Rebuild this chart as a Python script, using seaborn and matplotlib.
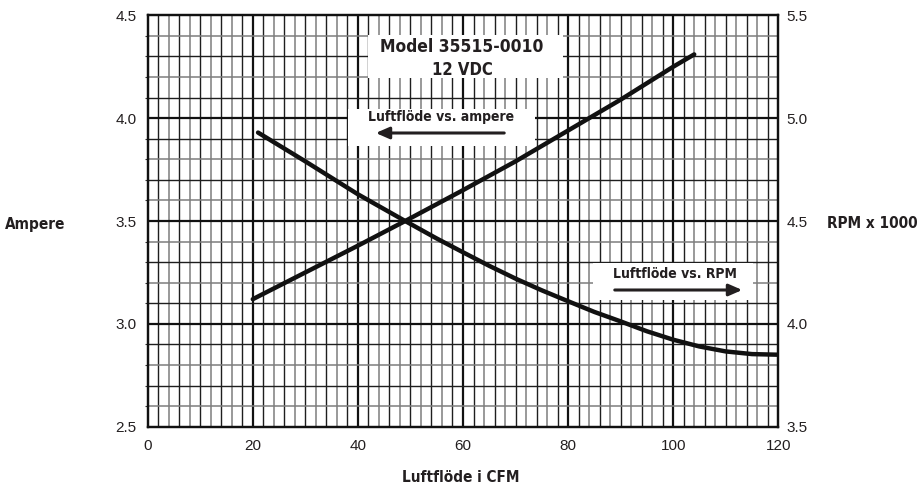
import numpy as np
import pandas as pd
import matplotlib
matplotlib.use("Agg")
import matplotlib.pyplot as plt
import seaborn as sns
from matplotlib import font_manager as fm

# ---- data ----
cfm_amp = [20, 30, 40, 49, 60, 70, 80, 90, 100, 104]
ampere = [3.12, 3.25, 3.38, 3.50, 3.65, 3.79, 3.94, 4.09, 4.25, 4.31]
cfm_rpm = [21, 30, 40, 49, 55, 60, 65, 70, 75, 80, 85, 90, 95, 100, 105, 110, 115, 120]
rpm_k = [4.93, 4.79, 4.63, 4.50, 4.415, 4.348, 4.282, 4.22, 4.163, 4.11, 4.058, 4.012, 3.964,
         3.923, 3.89, 3.866, 3.853, 3.85]
x_ticks = [0, 20, 40, 60, 80, 100, 120]
left_ticks = [2.5, 3.0, 3.5, 4.0, 4.5]
right_ticks = [3.5, 4.0, 4.5, 5.0, 5.5]

sns.set_theme(style="white")
names = {f.name for f in fm.fontManager.ttflist}
reg = "Liberation Sans" if "Liberation Sans" in names else "DejaVu Sans"
plt.rcParams['font.family'] = [reg, 'DejaVu Sans']

fig = plt.figure(figsize=(9.19, 4.88), dpi=100)
ax = fig.add_axes([0.1607, 0.1256, 0.8469 - 0.1607, 0.9686 - 0.1256])
ax2 = ax.twinx()

ax.set_xlim(0, 120)
ax.set_ylim(2.5, 4.5)
ax2.set_ylim(3.5, 5.5)

# grid lines
for xv in np.arange(2, 120, 2):
    if xv % 20 == 0:
        ax.axvline(xv, color="#111111", lw=1.6, zorder=1)
    elif (xv // 2) % 2 == 1:
        ax.axvline(xv, color="#1e1e1e", lw=1.0, zorder=1)
    else:
        ax.axvline(xv, color="#7d7d7d", lw=1.1, zorder=1)
for yv in np.round(np.arange(2.6, 4.5, 0.1), 1):
    k = int(round(yv * 10))
    if k % 5 == 0:
        ax.axhline(yv, color="#111111", lw=1.6, zorder=1)
    elif k % 2 == 1:
        ax.axhline(yv, color="#1e1e1e", lw=1.0, zorder=1)
    else:
        ax.axhline(yv, color="#7d7d7d", lw=1.1, zorder=1)

ax.set_zorder(1)
ax2.set_zorder(2)
ax.patch.set_visible(True)
ax2.patch.set_visible(False)

# curves
df_a = pd.DataFrame({"cfm": cfm_amp, "amp": ampere})
df_r = pd.DataFrame({"cfm": cfm_rpm, "rpm": rpm_k})
sns.lineplot(data=df_a, x="cfm", y="amp", ax=ax, color="#111111", lw=3.2, zorder=5,
             solid_capstyle="round", solid_joinstyle="round")
sns.lineplot(data=df_r, x="cfm", y="rpm", ax=ax2, color="#111111", lw=3.2, zorder=5,
             solid_capstyle="round", solid_joinstyle="round")

# white label boxes
def pix_box(a, x0, y0, x1, y1):
    fig.canvas.draw()
    inv = a.transData.inverted()
    (dx0, dy1) = inv.transform((x0, 488 - y0))
    (dx1, dy0) = inv.transform((x1, 488 - y1))
    a.add_patch(plt.Rectangle((dx0, dy0), dx1 - dx0, dy1 - dy0, facecolor="white",
                              edgecolor="none", zorder=3))

pix_box(ax, 368, 35, 563, 78)
pix_box(ax, 348, 109, 535, 146)
pix_box(ax, 593, 263, 753, 300)

fkw = dict(family=['DejaVu Sans'], fontstretch="condensed", fontweight="bold", color="#231f20")
fig.text(462 / 919, 1 - 47 / 488, "Model 35515-0010", ha="center", va="center", fontsize=12.5, zorder=10, **fkw)
fig.text(462 / 919, 1 - 70 / 488, "12 VDC", ha="center", va="center", fontsize=12, zorder=10, **fkw)
fig.text(441 / 919, 1 - 117 / 488, "Luftflöde vs. ampere", ha="center", va="center", fontsize=10, zorder=10, **fkw)
fig.text(675 / 919, 1 - 274 / 488, "Luftflöde vs. RPM", ha="center", va="center", fontsize=10, zorder=10, **fkw)
fig.text(35 / 919, 1 - 224 / 488, "Ampere", ha="center", va="center", fontsize=11, **fkw)
fig.text(872 / 919, 1 - 223 / 488, "RPM x 1000", ha="center", va="center", fontsize=11, **fkw)
fig.text(461 / 919, 1 - 478 / 488, "Luftflöde i CFM", ha="center", va="center", fontsize=11, **fkw)

# arrows
fig.patches.append(matplotlib.patches.FancyArrowPatch((507 / 919, 1 - 133 / 488), (373 / 919, 1 - 133 / 488),
                   transform=fig.transFigure, arrowstyle="-|>,head_length=8,head_width=3.5",
                   mutation_scale=1, lw=2.2, color="#231f20", zorder=10))
fig.patches.append(matplotlib.patches.FancyArrowPatch((612 / 919, 1 - 290 / 488), (745 / 919, 1 - 290 / 488),
                   transform=fig.transFigure, arrowstyle="-|>,head_length=8,head_width=3.5",
                   mutation_scale=1, lw=2.2, color="#231f20", zorder=10))

# ticks
ax.set_xticks(x_ticks)
ax.set_xticklabels([str(t) for t in x_ticks])
ax.set_yticks(left_ticks)
ax.set_yticklabels([f"{t:.1f}" for t in left_ticks])
ax2.set_yticks(right_ticks)
ax2.set_yticklabels([f"{t:.1f}" for t in right_ticks])
ax.set_xticks(np.arange(0, 121, 2), minor=True)
ax.set_yticks(np.arange(2.5, 4.51, 0.1), minor=True)
ax.tick_params(axis="both", which="major", length=0, labelsize=11, colors="#231f20")
ax.tick_params(axis="x", pad=9)
ax.tick_params(axis="y", pad=8)
ax.tick_params(axis="both", which="minor", length=2, width=0.8, color="#333333", direction="out")
ax2.tick_params(axis="y", which="major", length=0, labelsize=11, colors="#231f20", pad=6)
ax.set_xlabel("")
ax.set_ylabel("")
ax2.set_ylabel("")
for a in (ax, ax2):
    for s in a.spines.values():
        s.set_visible(True)
        s.set_color("#111111")
        s.set_linewidth(1.6)
ax.grid(False)
ax2.grid(False)

fig.savefig("out.png", dpi=100)
